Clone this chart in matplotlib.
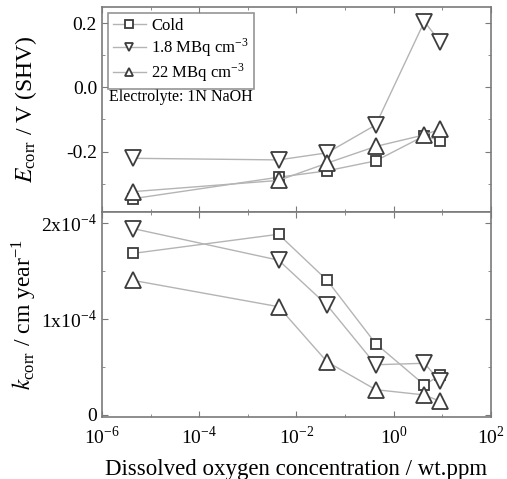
import matplotlib
matplotlib.use("Agg")
import matplotlib.pyplot as plt
from matplotlib.ticker import FixedLocator, MultipleLocator, FixedFormatter, NullFormatter

plt.rcParams["font.family"] = "Liberation Serif"
plt.rcParams["mathtext.fontset"] = "stix"

# Dissolved oxygen concentration (wt.ppm)
oxygen = [4.3e-6, 4.3e-3, 0.043, 0.43, 4.3, 9.0]

# Corrosion potential, V (SHV)
e_cold = [-0.347, -0.280, -0.260, -0.229, -0.151, -0.166]
e_18 = [-0.221, -0.226, -0.204, -0.117, 0.205, 0.143]
e_22 = [-0.325, -0.290, -0.236, -0.184, -0.148, -0.130]

# Corrosion rate, cm/year (x1e-4)
k_cold = [1.68, 1.88, 1.40, 0.74, 0.31, 0.41]
k_18 = [1.94, 1.61, 1.14, 0.52, 0.535, 0.35]
k_22 = [1.40, 1.125, 0.55, 0.26, 0.205, 0.14]

labels = ["Cold", r"1.8 MBq cm$^{\mathregular{-3}}$", r"22 MBq cm$^{\mathregular{-3}}$"]
markers = ["s", "v", "^"]
msizes = [7.5, 11, 11]

line_c = "#b4b4b4"
edge_c = "#3c3c3c"
spine_c = "#7a7a7a"

fig = plt.figure(figsize=(5.07, 4.79), dpi=100)
ax1 = fig.add_axes([0.201, 0.557, 0.767, 0.428])
ax2 = fig.add_axes([0.201, 0.129, 0.767, 0.428], sharex=ax1)

for ax, series in ((ax1, (e_cold, e_18, e_22)),
                   (ax2, ([v * 1e-4 for v in k_cold], [v * 1e-4 for v in k_18],
                          [v * 1e-4 for v in k_22]))):
    for y, lab, m, ms in zip(series, labels, markers, msizes):
        ax.plot(oxygen, y, color=line_c, lw=1.0, marker=m, ms=ms,
                mfc="white", mec=edge_c, mew=1.3, label=lab)
    for s in ax.spines.values():
        s.set_color(spine_c)
        s.set_linewidth(1.2)
    ax.tick_params(which="both", direction="in", top=True, right=True,
                   color=spine_c, labelsize=14)
    ax.tick_params(which="major", length=4)
    ax.tick_params(which="minor", length=2.5)

ax1.set_xscale("log")
ax1.set_xlim(1e-6, 1e2)
decades = [1e-6, 1e-4, 1e-2, 1, 1e2]
ax2.xaxis.set_major_locator(FixedLocator(decades))
ax2.xaxis.set_major_formatter(FixedFormatter(
    [r"10$^{\mathregular{-6}}$", r"10$^{\mathregular{-4}}$", r"10$^{\mathregular{-2}}$",
     r"10$^{\mathregular{0}}$", r"10$^{\mathregular{2}}$"]))
ax2.xaxis.set_minor_locator(FixedLocator([1e-5, 1e-3, 1e-1, 1e1]))
ax2.xaxis.set_minor_formatter(NullFormatter())
ax2.tick_params(axis="x", which="major", pad=6)
ax1.tick_params(axis="x", which="both", labelbottom=False)

ax1.set_ylim(-0.389, 0.25)
ax1.yaxis.set_major_locator(FixedLocator([-0.2, 0.0, 0.2]))
ax1.yaxis.set_major_formatter(FixedFormatter(["-0.2", "0.0", "0.2"]))
ax1.yaxis.set_minor_locator(MultipleLocator(0.1))

ax2.set_ylim(-0.027e-4, 2.11e-4)
ax2.yaxis.set_major_locator(FixedLocator([0, 1e-4, 2e-4]))
ax2.yaxis.set_major_formatter(FixedFormatter(
    ["0", r"1x10$^{\mathregular{-4}}$", r"2x10$^{\mathregular{-4}}$"]))
ax2.yaxis.set_minor_locator(MultipleLocator(0.5e-4))

ax1.set_ylabel(r"$E_{\mathregular{corr}}$ / V (SHV)", fontsize=17)
ax2.set_ylabel(r"$k_{\mathregular{corr}}$ / cm year$^{\mathregular{-1}}$", fontsize=17)
ax1.yaxis.set_label_coords(-0.163, 0.5)
ax2.yaxis.set_label_coords(-0.163, 0.5)
ax2.set_xlabel("Dissolved oxygen concentration / wt.ppm", fontsize=16.5, labelpad=8)

leg = ax1.legend(loc="upper left", fontsize=12, frameon=True, fancybox=False,
                 edgecolor=spine_c, handlelength=2.0, borderpad=0.3,
                 labelspacing=0.15, handletextpad=0.3, borderaxespad=0.35)
leg.get_frame().set_linewidth(1.2)
for h in leg.legend_handles:
    h.set_markersize(6)
ax1.text(0.018, 0.56, "Electrolyte: 1N NaOH", transform=ax1.transAxes,
         fontsize=11.5, ha="left", va="center")

fig.savefig("out.png", dpi=100)
